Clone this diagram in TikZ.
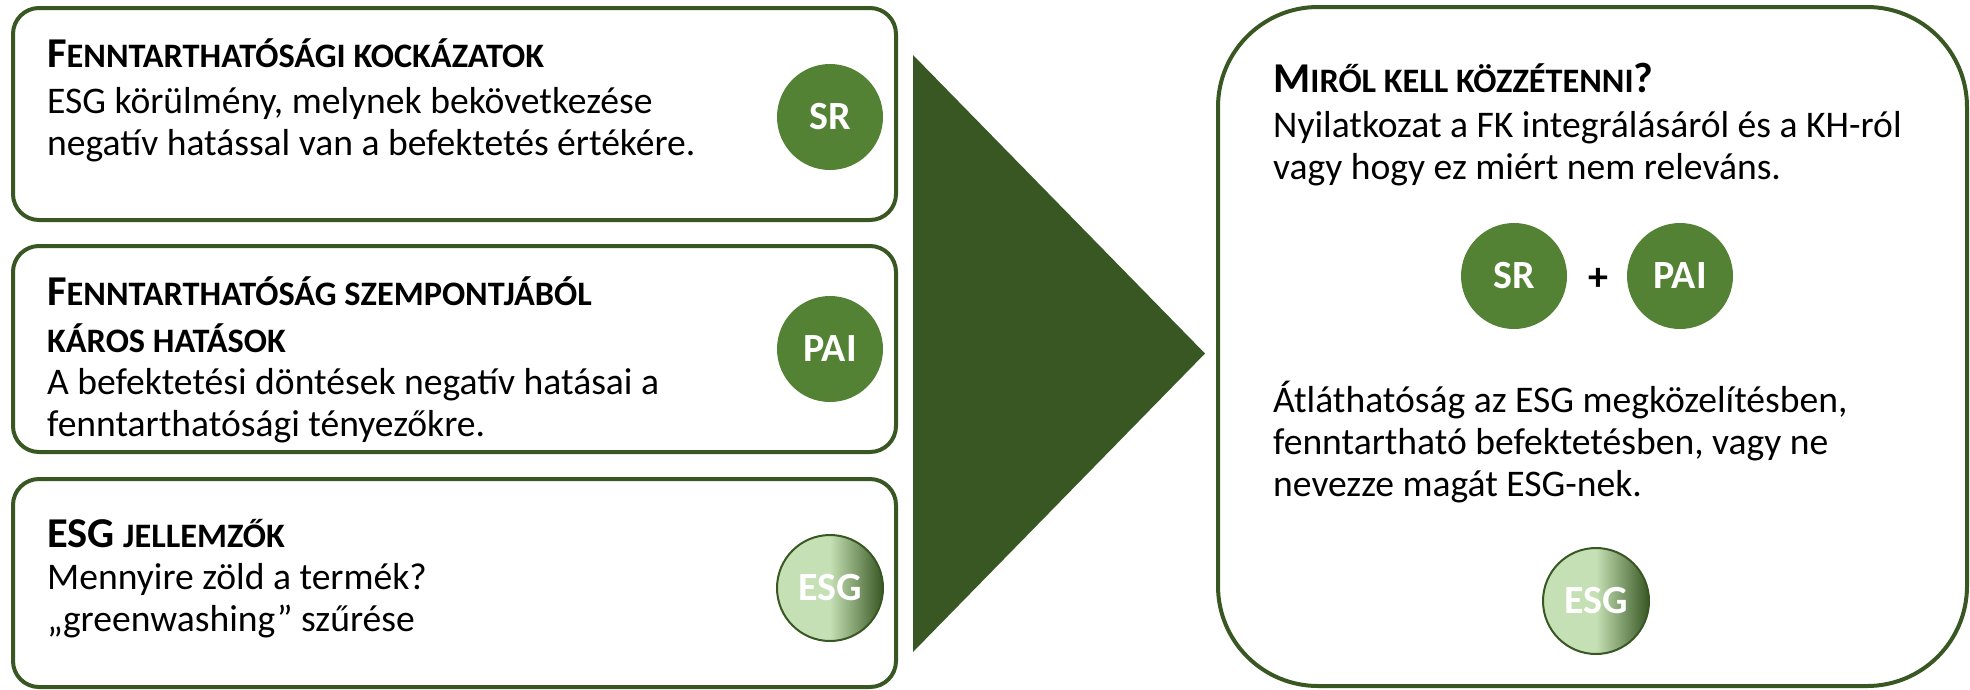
\documentclass[tikz,border=0pt]{standalone}
\usepackage{fontspec}
\setmainfont{Carlito}
\definecolor{dg}{HTML}{385723}
\definecolor{mg}{HTML}{548235}
\definecolor{lg}{HTML}{C5E0B4}
\pgfdeclarehorizontalshading{esgshade}{100bp}{color(0bp)=(lg); color(25bp)=(lg); color(50bp)=(lg); color(75bp)=(dg); color(100bp)=(dg)}
\newcommand\myfullcap[1]{{\fontsize{42.5}{42}\selectfont #1}}
\newcommand\scp[1]{{\fontsize{34.3}{42}\selectfont #1}}
\newcommand\txtlines[1]{\vtop{\fontsize{37.6}{42}\selectfont\lineskiplimit=-100pt #1}}
\begin{document}
\begin{tikzpicture}[x=1pt,y=-1pt,
  leftbox/.style={draw=dg, line width=4pt, rounded corners=26pt, inner sep=0pt, minimum width=883pt},
  bigbox/.style={draw=dg, line width=4pt, rounded corners=100pt, inner sep=0pt, minimum width=749pt, minimum height=679pt},
  txt/.style={anchor=base west, inner sep=0pt, text=black},
  disc/.style={circle, minimum size=106pt, inner sep=0pt, fill=mg, text=white, font=\fontsize{40}{42}\selectfont\bfseries},
  esgdisc/.style={circle, minimum size=106pt, inner sep=0pt, shading=esgshade, draw=dg, line width=2pt, text=white, font=\fontsize{40}{42}\selectfont\bfseries},
  plussign/.style={inner sep=0pt, text=black, font=\fontsize{40}{42}\selectfont\bfseries}]
\useasboundingbox (0,0) rectangle (1970,689);

% left boxes
\node[leftbox, minimum height=212pt] (b1) at (454.5,114) {};
\node[leftbox, minimum height=206pt] (b2) at (454.5,349) {};
\node[leftbox, minimum height=208pt] (b3) at (454.5,583) {};

% right box
\node[bigbox] (rb) at (1592.5,346.5) {};

% triangle
\coordinate (ta) at (913,55);
\coordinate (tb) at (913,652);
\coordinate (tc) at (1205,353.5);
\fill[dg] (ta) -- (tb) -- (tc) -- cycle;

% texts
\node[txt] (t1) at (47,67) {\txtlines{\hbox{\bfseries\myfullcap{F}\scp{ENNTARTHATÓSÁGI KOCKÁZATOK}}\vskip4pt
  \hbox{ESG körülmény, melynek bekövetkezése}
  \hbox{negatív hatással van a befektetés értékére.}}};
\node[txt] (t2) at (47,305) {\txtlines{\hbox{\bfseries\myfullcap{F}\scp{ENNTARTHATÓSÁG SZEMPONTJÁBÓL}}\vskip5pt
  \hbox{\bfseries\scp{KÁROS HATÁSOK}}
  \hbox{A befektetési döntések negatív hatásai a}
  \hbox{fenntarthatósági tényezőkre.}}};
\node[txt] (t3) at (47,547) {\txtlines{\hbox{\bfseries\myfullcap{ESG} \scp{JELLEMZŐK}}
  \hbox{Mennyire zöld a termék?}
  \hbox{„greenwashing” szűrése}}};
\node[txt] (t4) at (1273,92) {\txtlines{\hbox{\bfseries\myfullcap{M}\scp{IRŐL KELL KÖZZÉTENNI}\myfullcap{?}}\vskip3pt
  \hbox{Nyilatkozat a FK integrálásáról és a KH-ról}
  \hbox{vagy hogy ez miért nem releváns.}}};
\node[txt] (t5) at (1273,412) {\txtlines{\hbox{Átláthatóság az ESG megközelítésben,}
  \hbox{fenntartható befektetésben, vagy ne}
  \hbox{nevezze magát ESG-nek.}}};

% circles
\node[disc] (sr1) at (830,117) {SR};
\node[disc] (pai1) at (830,349) {PAI};
\node[esgdisc] (esg1) at (830,588) {ESG};
\node[disc] (sr2) at (1514,276) {SR};
\node[plussign] (plus) at (1598,279) {+};
\node[disc] (pai2) at (1680,276) {PAI};
\node[esgdisc] (esg2) at (1596,601) {ESG};
\end{tikzpicture}
\end{document}
